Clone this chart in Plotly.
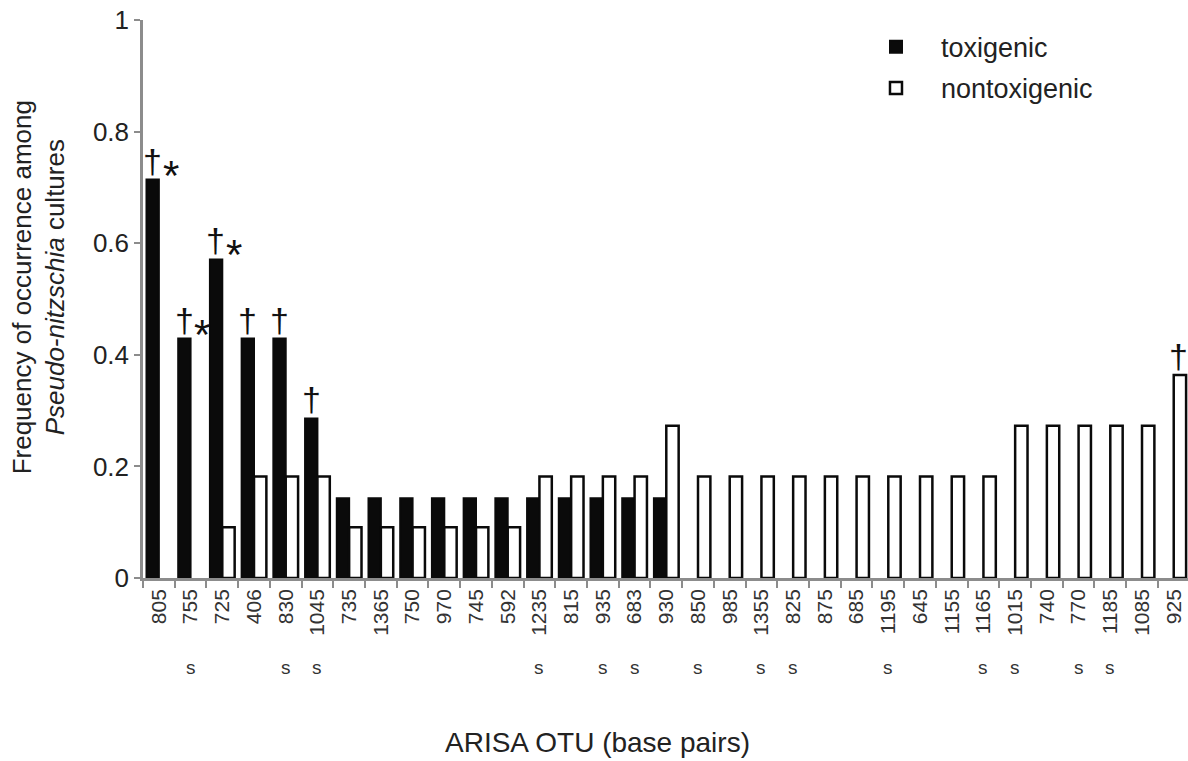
import plotly.graph_objects as go

# ARISA OTUs (base pairs), in plotting order
otus = ["805", "755", "725", "406", "830", "1045", "735", "1365", "750", "970",
        "745", "592", "1235", "815", "935", "683", "930", "850", "985", "1355",
        "825", "875", "685", "1195", "645", "1155", "1165", "1015", "740", "770",
        "1185", "1085", "925"]

# frequency of occurrence among toxigenic cultures (None = not detected)
toxigenic = [0.714, 0.429, 0.571, 0.429, 0.429, 0.286, 0.143, 0.143, 0.143, 0.143,
             0.143, 0.143, 0.143, 0.143, 0.143, 0.143, 0.143, None, None, None,
             None, None, None, None, None, None, None, None, None, None,
             None, None, None]

# frequency of occurrence among nontoxigenic cultures (None = not detected)
nontoxigenic = [None, None, 0.091, 0.182, 0.182, 0.182, 0.091, 0.091, 0.091, 0.091,
                0.091, 0.091, 0.182, 0.182, 0.182, 0.182, 0.273, 0.182, 0.182, 0.182,
                0.182, 0.182, 0.182, 0.182, 0.182, 0.182, 0.182, 0.273, 0.273, 0.273,
                0.273, 0.273, 0.364]

# significance marks drawn above bars
dagger_tox = ["805", "755", "725", "406", "830", "1045"]
star_tox = ["805", "755", "725"]
dagger_nontox = ["925"]

# OTUs flagged with "s" below the axis labels
s_flag = ["755", "830", "1045", "1235", "935", "683", "850", "1355", "825",
          "1195", "1165", "1015", "770", "1185"]

FONT = "Liberation Sans, Arial, sans-serif"
AXIS_GREY = "#8c8c8c"
INK = "#0a0a0a"

fig = go.Figure()
fig.add_trace(go.Bar(
    x=otus, y=toxigenic, name="toxigenic", legendgroup="a",
    marker=dict(color=INK, line=dict(color=INK, width=2)),
))
fig.add_trace(go.Bar(
    x=otus, y=nontoxigenic, name="nontoxigenic", legendgroup="b",
    marker=dict(color="white", line=dict(color=INK, width=2.5)),
))

annotations = []
idx = {o: i for i, o in enumerate(otus)}
for o in dagger_tox:
    i = idx[o]
    annotations.append(dict(x=i - 0.2, y=toxigenic[i], xref="x", yref="y", text="†",
                            showarrow=False, yanchor="bottom", yshift=-2,
                            font=dict(family=FONT, size=34, color="#111")))
for o in star_tox:
    i = idx[o]
    annotations.append(dict(x=i - 0.2, y=toxigenic[i], xref="x", yref="y", text="*",
                            showarrow=False, yanchor="bottom", xshift=18, yshift=-21,
                            font=dict(family=FONT, size=42, color="#111")))
for o in dagger_nontox:
    i = idx[o]
    annotations.append(dict(x=i + 0.2, y=nontoxigenic[i], xref="x", yref="y", text="†",
                            showarrow=False, yanchor="bottom", yshift=-2, xshift=-2,
                            font=dict(family=FONT, size=34, color="#111")))
for o in s_flag:
    annotations.append(dict(x=idx[o], y=-0.16, xref="x", yref="paper", text="s",
                            showarrow=False, yanchor="middle",
                            font=dict(family=FONT, size=19, color="#333")))

annotations.append(dict(x=0.435, y=-0.294, xref="paper", yref="paper",
                        text="ARISA OTU (base pairs)", showarrow=False,
                        xanchor="center", yanchor="middle",
                        font=dict(family=FONT, size=28, color="#222")))
annotations.append(dict(x=-0.1, y=0.52, xref="paper", yref="paper", textangle=-90,
                        text="Frequency of occurrence among<br><i>Pseudo-nitzschia</i> cultures",
                        showarrow=False, xanchor="center", yanchor="middle",
                        font=dict(family=FONT, size=26, color="#222")))

fig.update_layout(
    width=1188, height=761,
    margin=dict(l=143, r=0, t=20, b=183),
    paper_bgcolor="white", plot_bgcolor="white",
    barmode="group", bargap=0.22, bargroupgap=0,
    font=dict(family=FONT, color="#222"),
    annotations=annotations,
    legend=dict(x=0.6775, y=0.995, xanchor="left", yanchor="top",
                font=dict(family=FONT, size=27, color="#222"),
                itemwidth=80, tracegroupgap=3, bgcolor="rgba(0,0,0,0)"),
    xaxis=dict(type="category", range=[-0.5, 32.45], tickson="boundaries",
               ticks="outside", ticklen=7, tickwidth=2, tickcolor=AXIS_GREY,
               showline=True, linecolor=AXIS_GREY, linewidth=2.5,
               tickangle=-90, tickfont=dict(family=FONT, size=21, color="#333"),
               showgrid=False, zeroline=False),
    yaxis=dict(range=[0, 1], dtick=0.2, ticks="outside", ticklen=6, tickwidth=2,
               tickcolor=AXIS_GREY, showline=True, linecolor=AXIS_GREY, linewidth=2.5,
               tickfont=dict(family=FONT, size=26, color="#222"),
               showgrid=False, zeroline=False),
)

fig.write_html("out.html")
